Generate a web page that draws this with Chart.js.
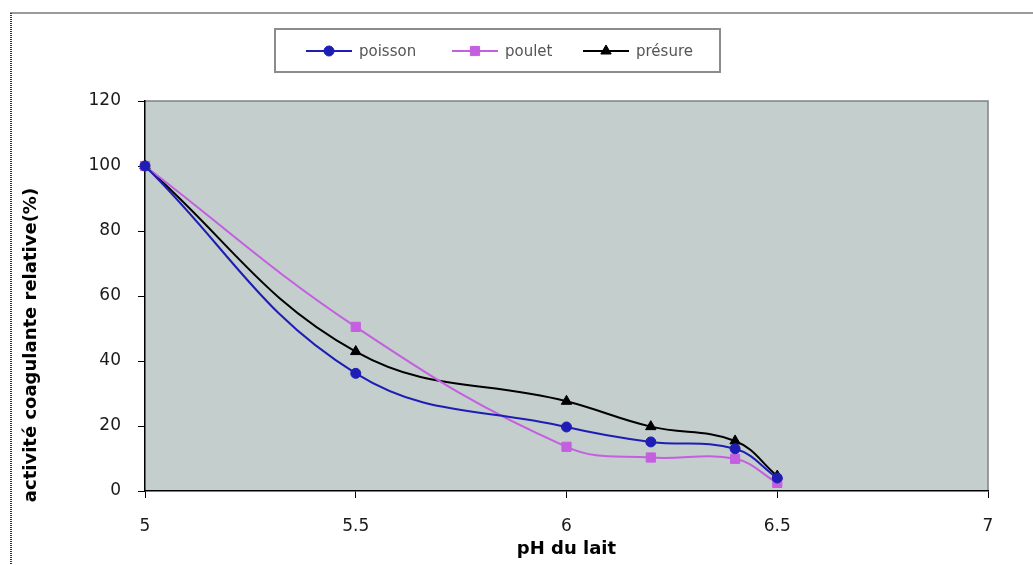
<!DOCTYPE html>
<html><head><meta charset="utf-8">
<script src="https://cdn.jsdelivr.net/npm/chart.js@4.4.1/dist/chart.umd.min.js"></script>
<style>html,body{margin:0;padding:0;background:#fff;} #wrap{width:1033px;height:565px;position:relative;}</style>
</head><body><div id="wrap"><canvas id="c" width="1033" height="565"></canvas></div>
<script>
const phValues = [5, 5.5, 6, 6.2, 6.4, 6.5];
const poisson = [100, 36.2, 19.7, 15.1, 13.0, 4.0];
const poulet = [100, 50.5, 13.6, 10.3, 9.9, 2.5];
const presure = [100, 42.9, 27.6, 19.8, 15.4, 4.6];
const seriesLabels = ['poisson', 'poulet', 'présure'];
const xTicks = [5, 5.5, 6, 6.5, 7];
const yTicks = [0, 20, 40, 60, 80, 100, 120];
const xTitle = 'pH du lait';
const yTitle = 'activité coagulante relative(%)';

const FONT = "'DejaVu Sans', 'Liberation Sans', Arial, sans-serif";
const toPts = arr => arr.map((v, i) => ({x: phValues[i], y: v}));

const frame = {
  id: 'frame',
  beforeDraw(chart) {
    const ctx = chart.ctx, a = chart.chartArea;
    ctx.save();
    ctx.fillStyle = '#fff';
    ctx.fillRect(0, 0, chart.width, chart.height);
    ctx.strokeStyle = '#9a9a9a'; ctx.lineWidth = 2;
    ctx.beginPath(); ctx.moveTo(10, 13); ctx.lineTo(chart.width, 13); ctx.stroke();
    ctx.strokeStyle = '#333'; ctx.setLineDash([1, 1]);
    ctx.beginPath(); ctx.moveTo(11, 13); ctx.lineTo(11, chart.height); ctx.stroke();
    ctx.setLineDash([]);
    ctx.fillStyle = '#c3cecd';
    ctx.fillRect(a.left, a.top, a.right - a.left, a.bottom - a.top);
    ctx.strokeStyle = '#7d8483'; ctx.lineWidth = 1.5;
    ctx.beginPath(); ctx.moveTo(a.left, a.top); ctx.lineTo(a.right, a.top); ctx.lineTo(a.right, a.bottom); ctx.stroke();
    ctx.restore();
  }
};

const yTitlePlugin = {
  id: 'yTitle',
  afterDraw(chart) {
    const ctx = chart.ctx;
    ctx.save();
    ctx.translate(31, 345);
    ctx.rotate(-Math.PI / 2);
    ctx.fillStyle = '#000';
    ctx.font = "bold 18px " + FONT;
    ctx.textAlign = 'center';
    ctx.textBaseline = 'middle';
    ctx.fillText(yTitle, 0, 0);
    ctx.restore();
  }
};

const legendX = [306, 452, 583];
const boxLegend = {
  id: 'boxLegend',
  afterDraw(chart) {
    const ctx = chart.ctx;
    ctx.save();
    ctx.fillStyle = '#fff';
    ctx.fillRect(275, 29, 445, 43);
    ctx.strokeStyle = '#8c8c8c'; ctx.lineWidth = 2;
    ctx.strokeRect(275, 29, 445, 43);
    const y = 51;
    chart.data.datasets.forEach((ds, i) => {
      const x0 = legendX[i];
      ctx.strokeStyle = ds.borderColor; ctx.lineWidth = 2;
      ctx.beginPath(); ctx.moveTo(x0, y); ctx.lineTo(x0 + 46, y); ctx.stroke();
      const cx = x0 + 23;
      ctx.fillStyle = ds.backgroundColor; ctx.lineWidth = 1;
      ctx.beginPath();
      if (ds.pointStyle === 'circle') {
        ctx.arc(cx, y, ds.pointRadius, 0, Math.PI * 2);
      } else if (ds.pointStyle === 'rect') {
        const s = ds.pointRadius * Math.SQRT1_2;
        ctx.rect(cx - s, y - s, 2 * s, 2 * s);
      } else {
        const r = ds.pointRadius;
        ctx.moveTo(cx, y - r);
        ctx.lineTo(cx + r * 0.866, y + r * 0.5);
        ctx.lineTo(cx - r * 0.866, y + r * 0.5);
        ctx.closePath();
      }
      ctx.fill(); ctx.stroke();
      ctx.fillStyle = '#555';
      ctx.font = "15px " + FONT;
      ctx.textBaseline = 'middle';
      ctx.textAlign = 'left';
      ctx.fillText(ds.label, x0 + 53, y + 1);
    });
    ctx.restore();
  }
};

const common = {borderWidth: 2, tension: 0.4, clip: false, pointBorderWidth: 1, fill: false};
new Chart(document.getElementById('c'), {
  type: 'line',
  data: {
    datasets: [
      Object.assign({label: seriesLabels[0], data: toPts(poisson), borderColor: '#1e1eb4', backgroundColor: '#1e1eb4', pointStyle: 'circle', pointRadius: 5}, common),
      Object.assign({label: seriesLabels[1], data: toPts(poulet), borderColor: '#c45fe0', backgroundColor: '#c45fe0', pointStyle: 'rect', pointRadius: 6.5}, common),
      Object.assign({label: seriesLabels[2], data: toPts(presure), borderColor: '#000000', backgroundColor: '#000000', pointStyle: 'triangle', pointRadius: 6}, common)
    ]
  },
  options: {
    responsive: false,
    animation: false,
    layout: {padding: {left: 12, right: 45, top: 101, bottom: 0}},
    plugins: {legend: {display: false}, tooltip: {enabled: false}},
    scales: {
      x: {
        type: 'linear', min: 5, max: 7,
        afterBuildTicks: s => { s.ticks = xTicks.map(v => ({value: v})); },
        afterFit: s => { s.height = 74; },
        border: {color: '#000', width: 1.5},
        grid: {drawOnChartArea: false, drawTicks: true, tickLength: 7, color: '#000', lineWidth: 1},
        ticks: {padding: 18, color: '#1a1a1a', font: {family: FONT, size: 17}, callback: v => String(v), maxRotation: 0, autoSkip: false},
        title: {display: true, text: xTitle, color: '#000', font: {family: FONT, size: 18, weight: 'bold'}, padding: {top: 0, bottom: 5}}
      },
      y: {
        type: 'linear', min: 0, max: 120,
        afterBuildTicks: s => { s.ticks = yTicks.map(v => ({value: v})); },
        afterFit: s => { s.width = 133; },
        border: {color: '#000', width: 1.5},
        grid: {drawOnChartArea: false, drawTicks: true, tickLength: 7, color: '#000', lineWidth: 1},
        ticks: {padding: 17, color: '#1a1a1a', font: {family: FONT, size: 17}, callback: v => String(v), autoSkip: false},
        title: {display: false, text: yTitle}
      }
    }
  },
  plugins: [frame, boxLegend, yTitlePlugin]
});
</script>
</body></html>
